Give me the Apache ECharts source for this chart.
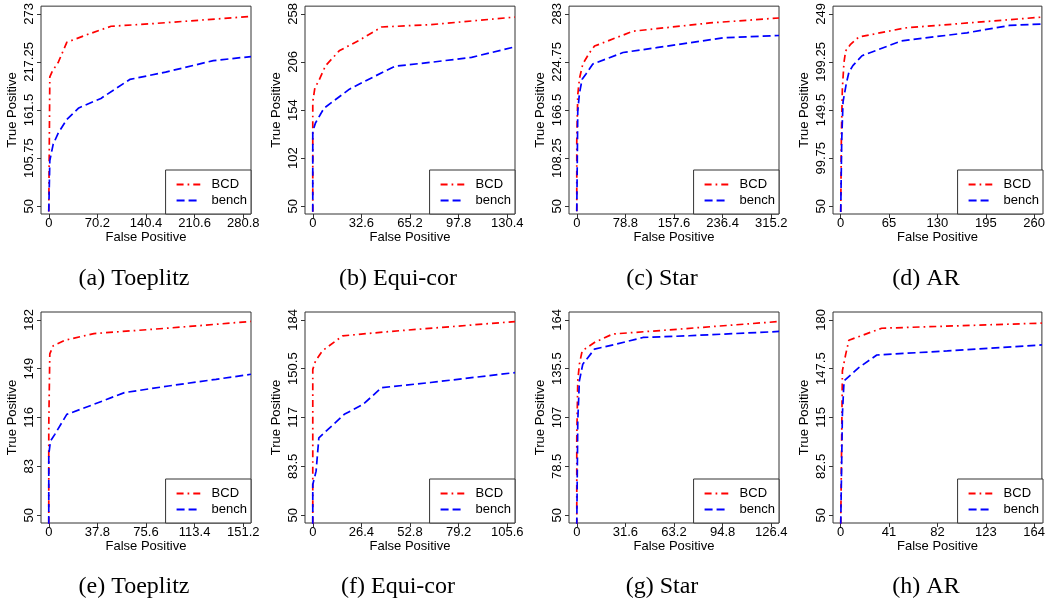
<!DOCTYPE html>
<html>
<head>
<meta charset="utf-8">
<script src="https://cdn.jsdelivr.net/npm/echarts@6/dist/echarts.min.js"></script>
<style>
  html, body { margin: 0; padding: 0; background: #fff; }
  #chart { width: 1048px; height: 609px; }
</style>
</head>
<body>
<div id="chart"></div>
<script>
// ---------- data ----------
const captions = ['(a) Toeplitz', '(b) Equi-cor', '(c) Star', '(d) AR',
                  '(e) Toeplitz', '(f) Equi-cor', '(g) Star', '(h) AR'];
const seriesNames = ['BCD', 'bench'];

const xTicks_a = [0, 70.2, 140.4, 210.6, 280.8];
const xTicks_b = [0, 32.6, 65.2, 97.8, 130.4];
const xTicks_c = [0, 78.8, 157.6, 236.4, 315.2];
const xTicks_d = [0, 65, 130, 195, 260];
const xTicks_e = [0, 37.8, 75.6, 113.4, 151.2];
const xTicks_f = [0, 26.4, 52.8, 79.2, 105.6];
const xTicks_g = [0, 31.6, 63.2, 94.8, 126.4];
const xTicks_h = [0, 41, 82, 123, 164];

const yTicks_a = [50, 105.75, 161.5, 217.25, 273];
const yTicks_b = [50, 102, 154, 206, 258];
const yTicks_c = [50, 108.25, 166.5, 224.75, 283];
const yTicks_d = [50, 99.75, 149.5, 199.25, 249];
const yTicks_e = [50, 83, 116, 149, 182];
const yTicks_f = [50, 83.5, 117, 150.5, 184];
const yTicks_g = [50, 78.5, 107, 135.5, 164];
const yTicks_h = [50, 82.5, 115, 147.5, 180];

// [false positive, true positive]
const bcd_a = [[0,44],[1.5,200],[5.4,207],[13.8,217],[26,240],[55.6,249],[90,258.6],[149,261.6],[292,270]];
const bench_a = [[0,44],[1.5,103],[6.4,122],[13.8,135],[26,150.5],[43.3,164],[75.3,175],[117,197],[168.7,205.5],[237.6,218.8],[292,223.5]];

const bcd_b = [[0,44],[0,163],[1.4,178],[4.1,186],[8.6,202],[17.7,218],[31.4,229.7],[46.2,243.8],[79.2,246.3],[135.6,254.5]];
const bench_b = [[0,44],[0,131],[1.8,140],[7.5,156],[24.6,176.6],[40.5,189.7],[55.3,201.4],[79.2,205.6],[106.5,211],[135.6,222.3]];

const bcd_c = [[0,44],[0,129],[1.6,185],[4.3,204.5],[9.8,222.3],[20.7,236],[28.8,244],[91.3,262],[216,272],[327.8,278]];
const bench_c = [[0,44],[1.6,165],[4.3,186.7],[8.7,203.7],[15.2,210.5],[26,222.3],[75,236.2],[129,242],[238,254],[327.8,256.8]];

const bcd_d = [[0,44],[0.9,124.5],[2.2,172],[4.4,199],[6.6,210.7],[13.2,217.5],[24.2,225],[86,234.4],[270.4,245.6]];
const bench_d = [[0,44],[1.3,118],[3.1,158],[7.5,177],[11,188.7],[16.3,195.5],[28.6,205.7],[81.5,221],[169.6,229.4],[226.9,237],[270.4,238.5]];

const bcd_e = [[0,44],[0,111],[0.8,159],[3.4,164.4],[12.7,168.2],[35.1,172.7],[93,176.4],[157.2,180.9]];
const bench_e = [[0,44],[0,91],[1.3,100],[4.7,104.6],[14,118.1],[35,124.9],[58.8,132.8],[93,137.3],[130,141.8],[157.2,145.2]];

const bcd_f = [[0,44],[0,150],[1.5,155.8],[5.2,162.7],[16.2,173],[42,176],[109.8,182.8]];
const bench_f = [[0,44],[0,71],[1.8,80.2],[3.3,103],[17.1,119.2],[27.3,126],[37.4,137.5],[64,141],[109.8,147.8]];

const bcd_g = [[0,44],[0,95],[0.65,128.4],[1.7,138.1],[3.5,145.9],[11.5,150.8],[23.4,155.7],[58,158],[131.5,163]];
const bench_g = [[0,44],[0.65,105],[1.7,128.4],[3.9,138.1],[11.5,146.9],[25.6,149.8],[43,153.7],[73,154.7],[131.5,157.2]];

const bcd_h = [[0,44],[0.5,79],[1.4,146],[4.2,157],[6.9,166.4],[34.7,174.4],[170.6,177.8]];
const bench_h = [[0,44],[1.4,117],[2.8,139.3],[15.3,148.2],[30.6,156.6],[90.3,159.3],[170.6,163.3]];

// ---------- assembly ----------
const xTicksAll = [xTicks_a, xTicks_b, xTicks_c, xTicks_d, xTicks_e, xTicks_f, xTicks_g, xTicks_h];
const yTicksAll = [yTicks_a, yTicks_b, yTicks_c, yTicks_d, yTicks_e, yTicks_f, yTicks_g, yTicks_h];
const bcdAll = [bcd_a, bcd_b, bcd_c, bcd_d, bcd_e, bcd_f, bcd_g, bcd_h];
const benchAll = [bench_a, bench_b, bench_c, bench_d, bench_e, bench_f, bench_g, bench_h];

const W = 1048, H = 609;
const SANS = '"Liberation Sans", Arial, sans-serif';
const SERIF = '"Liberation Serif", "Times New Roman", serif';
const colLeft = [41, 305, 569, 833];
const rowTop = [4, 312];
const rowH = [210, 211];
const gridW = 210;
const capTop = [267, 575];
const capShift = -12;

function ext(t) {
  const a = t[0], b = t[t.length - 1], d = (b - a) * 0.04;
  return [a - d, b + d];
}

const grids = [], xAxes = [], yAxes = [], series = [], legends = [], titles = [];
for (let i = 0; i < 8; i++) {
  const c = i % 4, r = Math.floor(i / 4);
  const left = colLeft[c], top = rowTop[r], h = rowH[r];
  grids.push({ left: left, top: top, width: gridW, height: h, show: true,
    borderColor: '#333', borderWidth: 1, backgroundColor: 'transparent' });
  const xr = ext(xTicksAll[i]), yr = ext(yTicksAll[i]);
  xAxes.push({
    type: 'value', gridIndex: i, min: xr[0], max: xr[1],
    axisLine: { show: false, onZero: false },
    splitLine: { show: false },
    axisTick: { show: true, customValues: xTicksAll[i], length: 4, lineStyle: { color: '#333' } },
    axisLabel: { customValues: xTicksAll[i], fontSize: 13, color: '#000', margin: 3, fontFamily: SANS },
    name: 'False Positive', nameLocation: 'middle', nameGap: 17,
    nameTextStyle: { fontSize: 13, color: '#000', fontFamily: SANS }
  });
  yAxes.push({
    type: 'value', gridIndex: i, min: yr[0], max: yr[1],
    axisLine: { show: false, onZero: false },
    splitLine: { show: false },
    axisTick: { show: true, customValues: yTicksAll[i], length: 4, lineStyle: { color: '#333' } },
    axisLabel: { customValues: yTicksAll[i], fontSize: 13, color: '#000', margin: 5, rotate: 90, fontFamily: SANS },
    name: 'True Positive', nameLocation: 'middle', nameGap: 22, nameRotate: 90,
    nameTextStyle: { fontSize: 13, color: '#000', fontFamily: SANS }
  });
  series.push({
    type: 'line', name: seriesNames[0], xAxisIndex: i, yAxisIndex: i,
    data: bcdAll[i], symbol: 'none', clip: true, z: 3,
    lineStyle: { color: '#ff0000', width: 1.7, type: [7, 4, 1.7, 4] },
    itemStyle: { color: '#ff0000' }
  });
  series.push({
    type: 'line', name: seriesNames[1], xAxisIndex: i, yAxisIndex: i,
    data: benchAll[i], symbol: 'none', clip: true, z: 3,
    lineStyle: { color: '#0000ff', width: 1.7, type: [8, 4] },
    itemStyle: { color: '#0000ff' }
  });
  legends.push({
    data: seriesNames, orient: 'vertical', selectedMode: false,
    right: W - (left + gridW), bottom: H - (top + h),
    padding: [8, 4, 7, 10], itemGap: 3, itemWidth: 24, itemHeight: 14,
    backgroundColor: '#fff', borderColor: '#333', borderWidth: 1, borderRadius: 0,
    itemStyle: { opacity: 0 },
    textStyle: { fontSize: 13, color: '#000', fontFamily: SANS, padding: [0, 0, 0, 6] },
    z: 10
  });
  titles.push({
    text: captions[i], left: left + gridW / 2 + capShift, top: capTop[r], textAlign: 'center', padding: 0,
    textStyle: { fontFamily: SERIF, fontSize: 24, fontWeight: 'normal', color: '#000' }
  });
}

const chart = echarts.init(document.getElementById('chart'), null, { renderer: 'canvas' });
chart.setOption({
  animation: false,
  backgroundColor: '#fff',
  title: titles,
  grid: grids,
  xAxis: xAxes,
  yAxis: yAxes,
  legend: legends,
  series: series
});
</script>
</body>
</html>
